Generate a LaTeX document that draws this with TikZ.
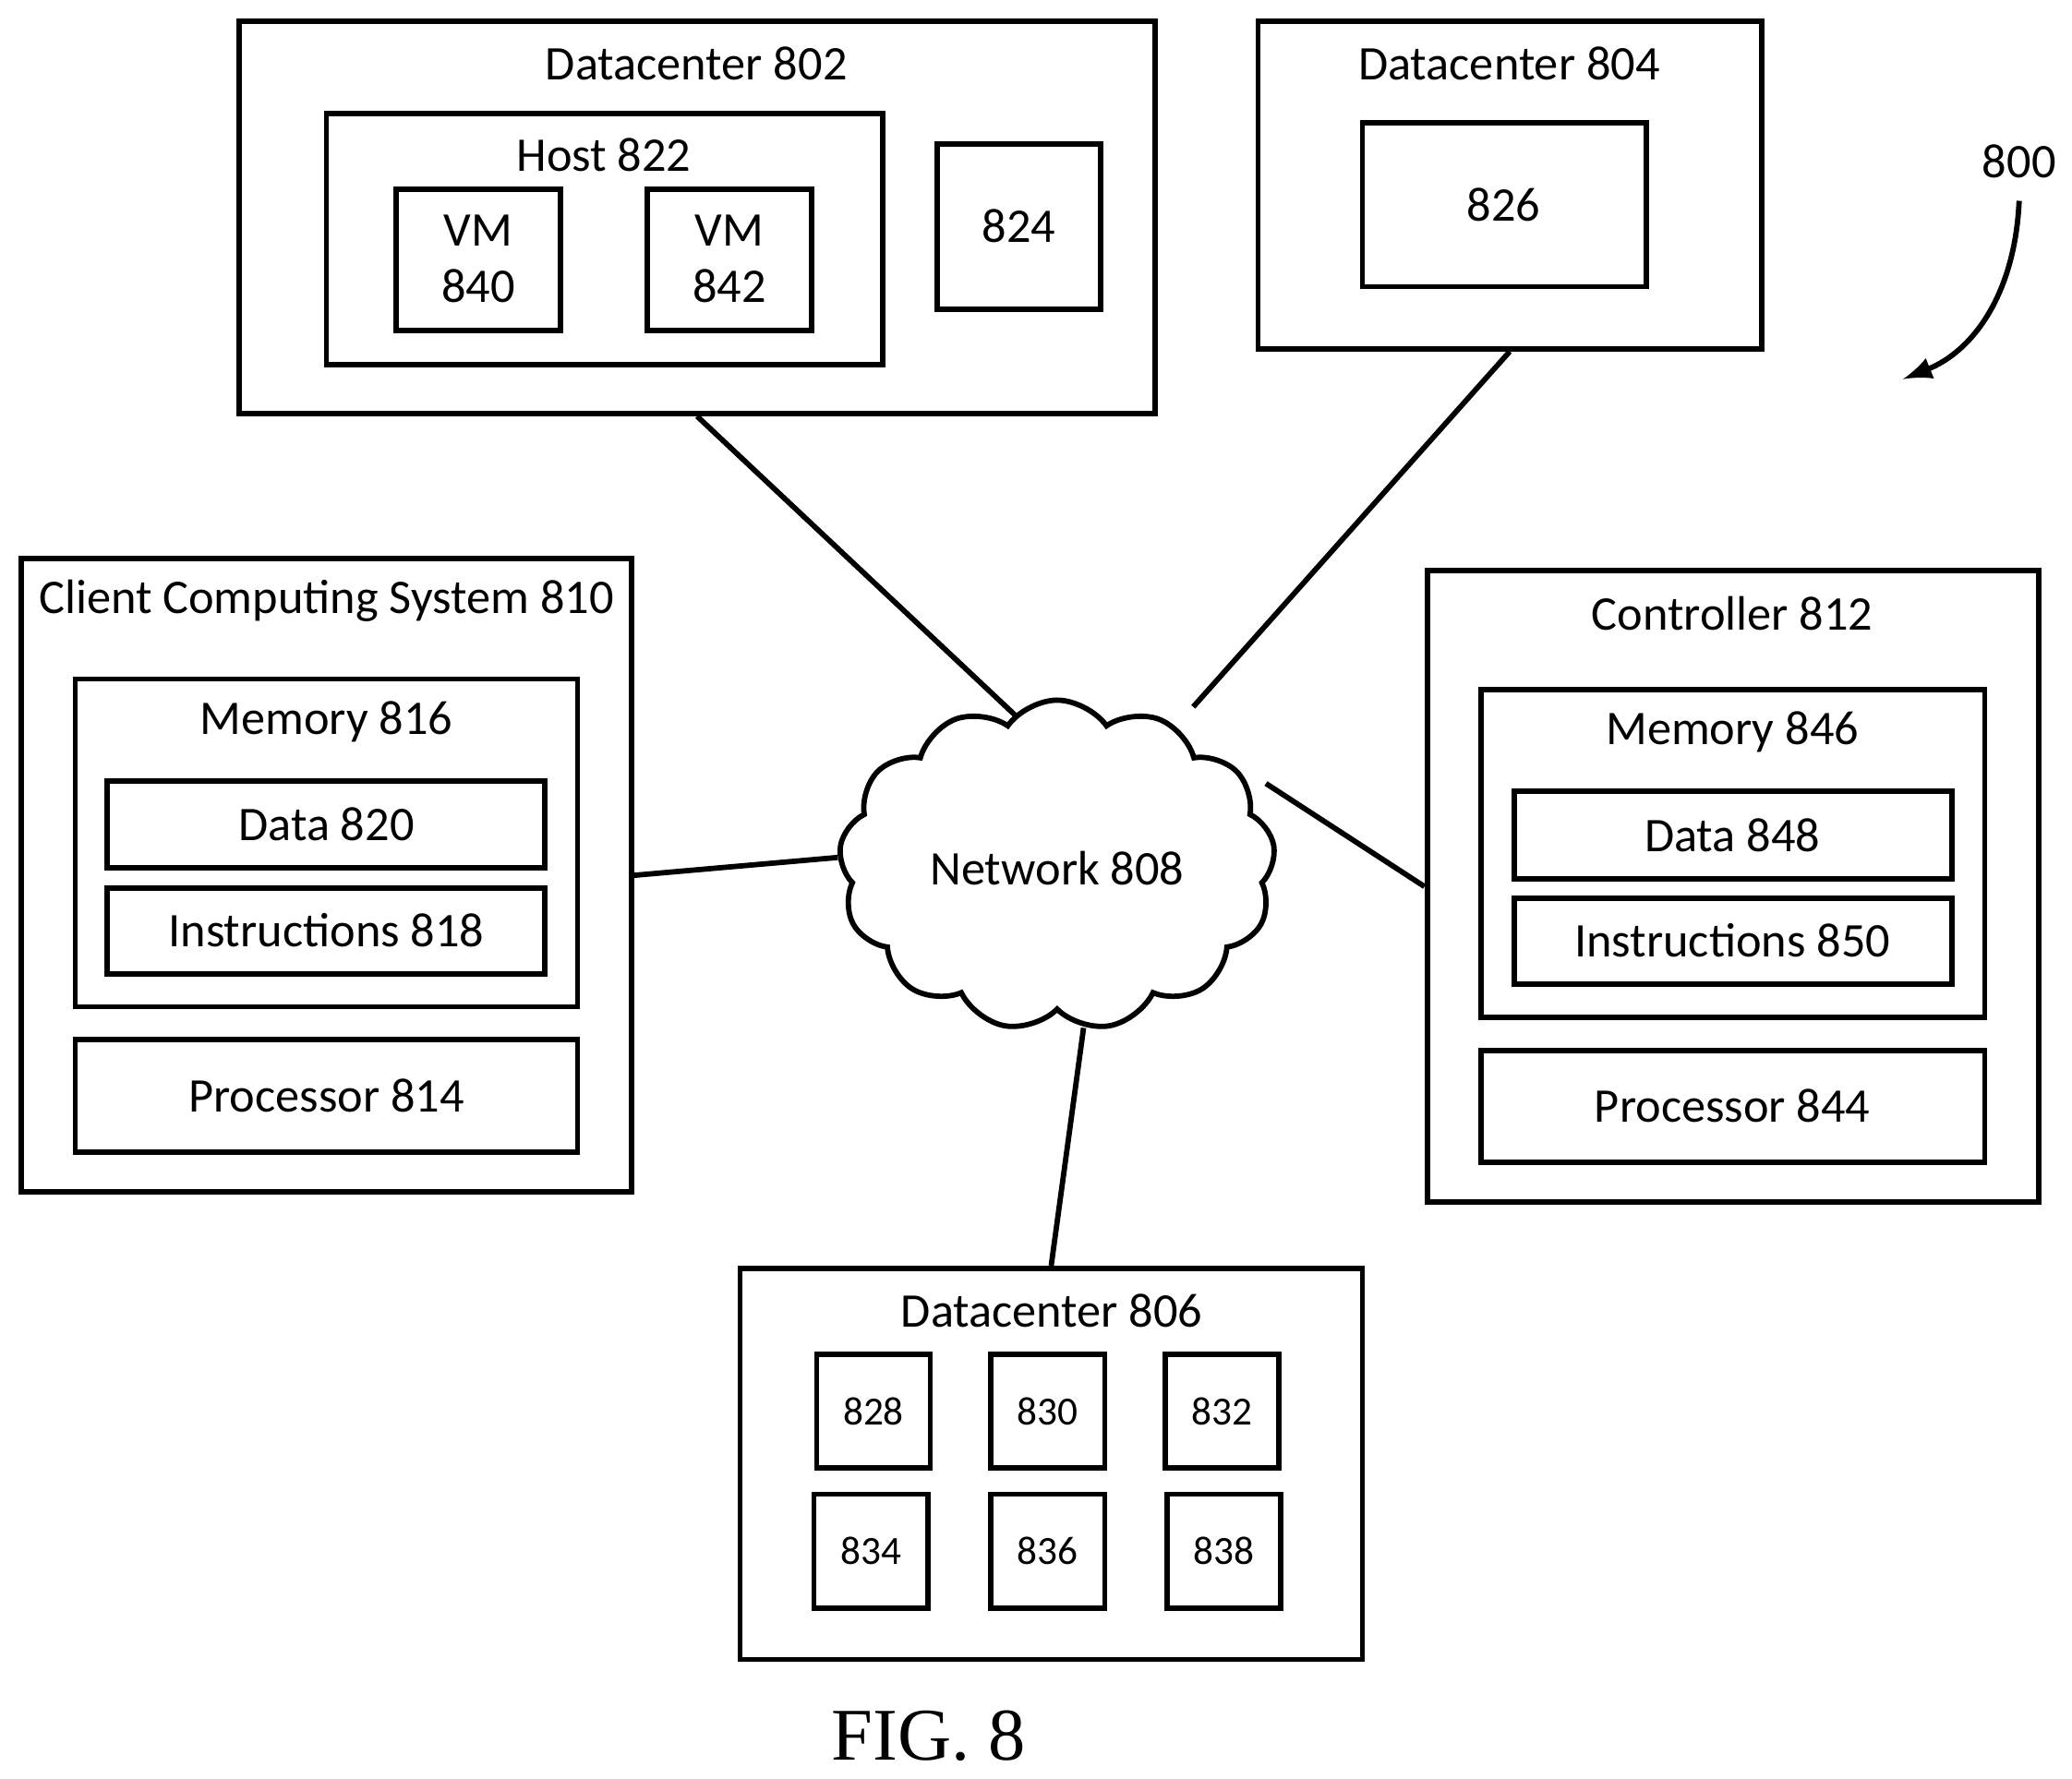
\documentclass[tikz,border=0pt]{standalone}
\usepackage{fontspec}
\setmainfont{Carlito}
\newfontfamily\figfont{Liberation Serif}
\usetikzlibrary{fit,shapes.symbols}
\begin{document}
\begin{tikzpicture}[x=0.01cm,y=-0.01cm,
  bx/.style={draw,line width=1.15pt,inner sep=0pt},
  lbl/.style={font=\fontsize{10.4}{12}\selectfont,inner sep=0pt},
  sm/.style={font=\fontsize{8.6}{10}\selectfont,inner sep=0pt},
  ln/.style={line width=1.15pt}]
\useasboundingbox (0,0) rectangle (1568,1346);
\newcommand\bx[5]{\node[bx,fit={(#2,#3)(#4,#5)}] (#1) {};}
% Datacenter 802
\bx{dc802}{181}{16}{874}{313}
\node[lbl] at (527,48) {Datacenter 802};
\bx{host}{247}{86}{668}{276}
\node[lbl] at (457,117) {Host 822};
\bx{vm840}{300}{143}{424}{250}
\node[lbl,align=center] at (362,196) {VM\\[0pt]840};
\bx{vm842}{490}{143}{614}{250}
\node[lbl,align=center] at (552,196) {VM\\[0pt]842};
\bx{b824}{709}{109}{833}{234}
\node[lbl] at (771,171) {824};
% Datacenter 804
\bx{dc804}{952}{16}{1333}{264}
\node[lbl] at (1142,48) {Datacenter 804};
\bx{b826}{1031}{93}{1246}{217}
\node[lbl] at (1138,155) {826};
% 800
\node[lbl] (l800) at (1528,122) {800};
\draw[ln,-latex] (1528,152) .. controls (1525,220) and (1495,265) .. (1440,287);
% Client
\bx{client}{16}{423}{478}{902}
\node[lbl] at (247,455) {Client Computing System 810};
\bx{mem816}{57}{514}{437}{762}
\node[lbl] at (247,546) {Memory 816};
\bx{d820}{81}{591}{412}{657}
\node[lbl] at (247,624) {Data 820};
\bx{i818}{81}{672}{412}{737}
\node[lbl] at (247,704) {Instructions 818};
\bx{p814}{57}{787}{437}{872}
\node[lbl] at (247,829) {Processor 814};
% Controller
\bx{ctrl}{1080}{432}{1543}{910}
\node[lbl] at (1311,464) {Controller 812};
\bx{mem846}{1121}{522}{1502}{770}
\node[lbl] at (1311,554) {Memory 846};
\bx{d848}{1146}{599}{1477}{665}
\node[lbl] at (1311,632) {Data 848};
\bx{i850}{1146}{680}{1477}{745}
\node[lbl] at (1311,712) {Instructions 850};
\bx{p844}{1121}{795}{1502}{880}
\node[lbl] at (1311,837) {Processor 844};
% Network
\node[cloud,draw,line width=1.15pt,cloud puffs=13,cloud puff arc=110,aspect=1.3,inner sep=0pt,minimum width=3.3cm,minimum height=2.5cm] (net) at (800,655) {};
\node[lbl] at (800,657) {Network 808};
% Datacenter 806
\bx{dc806}{560}{960}{1031}{1256}
\node[lbl] at (796,992) {Datacenter 806};
\bx{b828}{618}{1025}{704}{1111}\node[sm] at (661,1068) {828};
\bx{b830}{750}{1025}{836}{1111}\node[sm] at (793,1068) {830};
\bx{b832}{882}{1025}{968}{1111}\node[sm] at (925,1068) {832};
\bx{b834}{616}{1131}{702}{1217}\node[sm] at (659,1174) {834};
\bx{b836}{750}{1131}{836}{1217}\node[sm] at (793,1174) {836};
\bx{b838}{883}{1131}{969}{1217}\node[sm] at (926,1174) {838};
% connectors
\draw[ln] (dc802.south) -- (770,543);
\draw[ln] (dc804.south) -- (903,535);
\draw[ln] (client.east) -- (634,649);
\draw[ln] (ctrl.west) -- (958,593);
\draw[ln] (dc806.north) -- (820,778);
\node[inner sep=0pt,font=\figfont\fontsize{16}{19}\selectfont] at (703,1314) {FIG. 8};
\end{tikzpicture}
\end{document}
